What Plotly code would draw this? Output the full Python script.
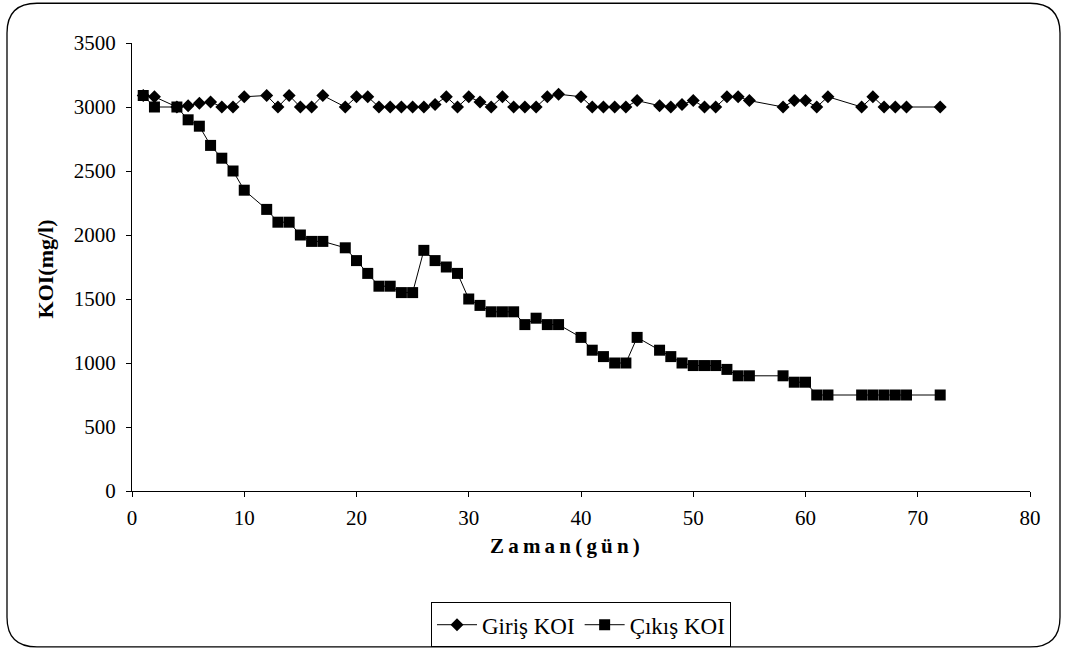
import plotly.graph_objects as go

days = [1, 2, 4, 5, 6, 7, 8, 9, 10, 12, 13, 14, 15, 16, 17, 19, 20, 21, 22, 23, 24, 25,
        26, 27, 28, 29, 30, 31, 32, 33, 34, 35, 36, 37, 38, 40, 41, 42, 43, 44, 45, 47,
        48, 49, 50, 51, 52, 53, 54, 55, 58, 59, 60, 61, 62, 65, 66, 67, 68, 69, 72]

giris_koi = [3090, 3080, 3000, 3010, 3030, 3040, 3000, 3000, 3080, 3090, 3000, 3090,
             3000, 3000, 3090, 3000, 3080, 3080, 3000, 3000, 3000, 3000, 3000, 3020,
             3080, 3000, 3080, 3040, 3000, 3080, 3000, 3000, 3000, 3080, 3100, 3080,
             3000, 3000, 3000, 3000, 3050, 3010, 3000, 3020, 3050, 3000, 3000, 3080,
             3080, 3050, 3000, 3050, 3050, 3000, 3080, 3000, 3080, 3000, 3000, 3000,
             3000]

cikis_koi = [3090, 3000, 3000, 2900, 2850, 2700, 2600, 2500, 2350, 2200, 2100, 2100,
             2000, 1950, 1950, 1900, 1800, 1700, 1600, 1600, 1550, 1550, 1880, 1800,
             1750, 1700, 1500, 1450, 1400, 1400, 1400, 1300, 1350, 1300, 1300, 1200,
             1100, 1050, 1000, 1000, 1200, 1100, 1050, 1000, 980, 980, 980, 950,
             900, 900, 900, 850, 850, 750, 750, 750, 750, 750, 750, 750, 750]

x_ticks = [0, 10, 20, 30, 40, 50, 60, 70, 80]
y_ticks = [0, 500, 1000, 1500, 2000, 2500, 3000, 3500]

FONT = "Liberation Serif"
W, H = 1067, 659
L, R, T, B = 132, 1030, 43, 494


def px(x, y):
    return (x - L) / (R - L), (B - y) / (B - T)


fig = go.Figure()
fig.add_trace(go.Scatter(
    x=days, y=giris_koi, mode="lines+markers", name="Giriş KOI",
    line=dict(color="black", width=1),
    marker=dict(symbol="diamond", size=10, color="black"),
))
fig.add_trace(go.Scatter(
    x=days, y=cikis_koi, mode="lines+markers", name="Çıkış KOI",
    line=dict(color="black", width=1),
    marker=dict(symbol="square", size=11, color="black"),
))

# rounded outer frame
x0, y0, x1, y1, r = 7, 3, 1060, 651, 30
def P(x, y):
    a, b = px(x, y)
    return f"{a:.5f},{b:.5f}"
path = (f"M {P(x0 + r, y0)} L {P(x1 - r, y0)} Q {P(x1, y0)} {P(x1, y0 + r)} "
        f"L {P(x1, y1 - r)} Q {P(x1, y1)} {P(x1 - r, y1)} "
        f"L {P(x0 + r, y1)} Q {P(x0, y1)} {P(x0, y1 - r)} "
        f"L {P(x0, y0 + r)} Q {P(x0, y0)} {P(x0 + r, y0)} Z")
fig.add_shape(type="path", path=path, xref="paper", yref="paper",
              line=dict(color="black", width=1.3), layer="below")

SP = "\u2009"
tx, ty = px(565, 549)
fig.add_annotation(text="<b>" + SP.join("Zaman(gün)") + "</b>", x=tx, y=ty,
                   xref="paper", yref="paper",
                   showarrow=False, font=dict(family=FONT, size=21, color="black"),
                   xanchor="center", yanchor="middle")
ax_, ay_ = px(45, 271)
fig.add_annotation(text="<b>KOI(mg/l)</b>", x=ax_, y=ay_, xref="paper", yref="paper",
                   showarrow=False, textangle=-90,
                   font=dict(family=FONT, size=22, color="black"),
                   xanchor="center", yanchor="middle")

ly = px(0, 606)[1]
fig.update_layout(
    width=W, height=H,
    margin=dict(l=L, r=W - R, t=T, b=H - B),
    paper_bgcolor="white", plot_bgcolor="white",
    font=dict(family=FONT, size=21, color="black"),
    showlegend=True,
    legend=dict(orientation="h", x=0.5, xanchor="center", y=ly, yanchor="top",
                bordercolor="black", borderwidth=1, bgcolor="white",
                font=dict(family=FONT, size=23, color="black"),
                itemwidth=40, tracegroupgap=0),
    xaxis=dict(range=[0, 80], tickvals=x_ticks, ticks="outside", ticklen=5,
               tickcolor="black", showline=True, linecolor="black", linewidth=1,
               showgrid=False, zeroline=False, ticklabelstandoff=3,
               tickfont=dict(family=FONT, size=21, color="black")),
    yaxis=dict(range=[0, 3500], tickvals=y_ticks, ticks="outside", ticklen=5,
               tickcolor="black", showline=True, linecolor="black", linewidth=1,
               showgrid=False, zeroline=False, ticklabelstandoff=6,
               tickfont=dict(family=FONT, size=21, color="black")),
)

fig.write_html("out.html")
